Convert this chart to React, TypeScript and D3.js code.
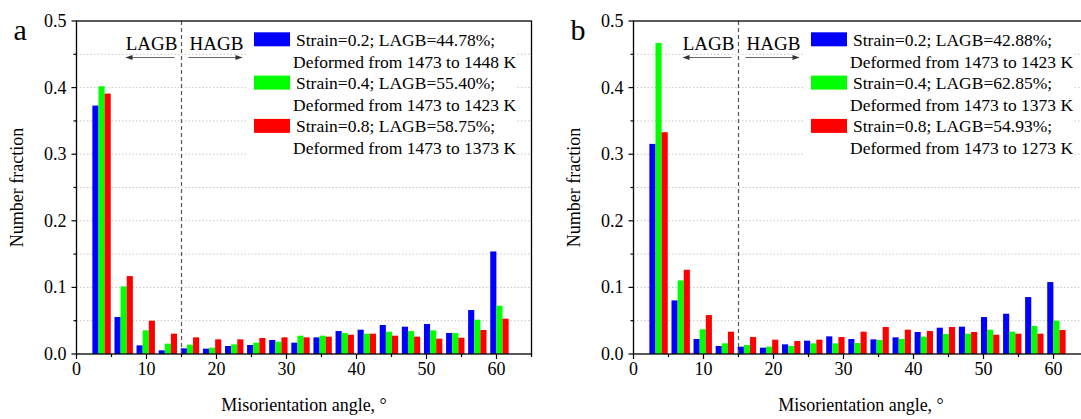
import React from "react";
import * as d3 from "d3";

// Misorientation-angle bin centres (degrees), 19 bins from 2° to 62°
const binCenters = [3.58, 6.74, 9.89, 13.05, 16.21, 19.37, 22.53, 25.68, 28.84, 32.0, 35.16, 38.32, 41.47, 44.63, 47.79, 50.95, 54.11, 57.26, 60.42];

// Panel a — number fraction per bin
const aStrain02 = [0.373, 0.0555, 0.013, 0.0055, 0.0085, 0.008, 0.012, 0.0135, 0.021, 0.017, 0.025, 0.0345, 0.0365, 0.0435, 0.041, 0.045, 0.0315, 0.066, 0.154];
const aStrain04 = [0.402, 0.1015, 0.0355, 0.0155, 0.014, 0.0095, 0.0145, 0.017, 0.0185, 0.0275, 0.0275, 0.0315, 0.0305, 0.0335, 0.0345, 0.0355, 0.0315, 0.0515, 0.0725];
const aStrain08 = [0.391, 0.117, 0.05, 0.0305, 0.025, 0.022, 0.022, 0.024, 0.025, 0.025, 0.026, 0.029, 0.0305, 0.0275, 0.026, 0.023, 0.0245, 0.036, 0.053];

// Panel b — number fraction per bin
const bStrain02 = [0.3155, 0.0805, 0.0225, 0.012, 0.011, 0.0095, 0.0145, 0.02, 0.0265, 0.0225, 0.022, 0.025, 0.033, 0.0395, 0.041, 0.0555, 0.0605, 0.0855, 0.108];
const bStrain04 = [0.467, 0.1105, 0.037, 0.016, 0.0135, 0.011, 0.012, 0.016, 0.016, 0.0165, 0.021, 0.0225, 0.026, 0.03, 0.0305, 0.0365, 0.0335, 0.042, 0.05];
const bStrain08 = [0.333, 0.1265, 0.0585, 0.0335, 0.0255, 0.0215, 0.0195, 0.0215, 0.0255, 0.0335, 0.0405, 0.0365, 0.0345, 0.0405, 0.033, 0.029, 0.0305, 0.0305, 0.036];

const seriesColors = ["#0000ff", "#00ff00", "#ff0000"];

const aLegend = [
  ["Strain=0.2; LAGB=44.78%;", "Deformed from 1473 to 1448 K"],
  ["Strain=0.4; LAGB=55.40%;", "Deformed from 1473 to 1423 K"],
  ["Strain=0.8; LAGB=58.75%;", "Deformed from 1473 to 1373 K"],
];
const bLegend = [
  ["Strain=0.2; LAGB=42.88%;", "Deformed from 1473 to 1423 K"],
  ["Strain=0.4; LAGB=62.85%;", "Deformed from 1473 to 1373 K"],
  ["Strain=0.8; LAGB=54.93%;", "Deformed from 1473 to 1273 K"],
];

const xMajorTicks = [0, 10, 20, 30, 40, 50, 60];
const xMinorTicks = [5, 15, 25, 35, 45, 55, 65];
const yMajorTicks = [0, 0.1, 0.2, 0.3, 0.4, 0.5];
const yMinorTicks = [0.05, 0.15, 0.25, 0.35, 0.45];
const gridValues = [0.05, 0.1, 0.15, 0.2, 0.25, 0.3, 0.35, 0.4, 0.45];

const boundaryAngle = 15;
const barWidthDeg = 0.875;

const FONT = "'Liberation Serif', 'Times New Roman', serif";

type PanelProps = {
  left: number;
  letter: string;
  series: number[][];
  legend: string[][];
};

function Panel({ left, letter, series, legend }: PanelProps) {
  const top = 21;
  const bottom = 354;
  const width = 455;
  const right = left + width;
  const x = d3.scaleLinear().domain([0, 65]).range([left, right]);
  const y = d3.scaleLinear().domain([0, 0.5]).range([bottom, top]);
  const bw = x(barWidthDeg) - x(0);
  const xb = x(boundaryAngle);

  const legX = left + 177.5;
  const arrowY = 57.5;

  return (
    <g fontFamily={FONT} fill="#000">
      {/* grid */}
      {gridValues.map((v) => (
        <line key={"g" + v} x1={left} x2={right} y1={y(v)} y2={y(v)} stroke="#c8c8c8" strokeWidth={1} strokeDasharray="1.5,2" />
      ))}
      {/* legend backdrop */}
      <rect x={legX - 7} y={25} width={270} height={141} fill="#fff" />
      {/* bars */}
      {series.map((vals, si) =>
        vals.map((v, i) => (
          <rect
            key={`b${si}-${i}`}
            x={x(binCenters[i]) + (si - 1.5) * bw}
            y={y(v)}
            width={bw}
            height={y(0) - y(v)}
            fill={seriesColors[si]}
          />
        ))
      )}
      {/* LAGB / HAGB boundary */}
      <line x1={xb} x2={xb} y1={top} y2={bottom} stroke="#555" strokeWidth={1.2} strokeDasharray="4,3" />
      <text x={xb - 4} y={50} fontSize={19} textAnchor="end">LAGB</text>
      <text x={xb + 8} y={50} fontSize={19}>HAGB</text>
      <line x1={xb - 55} x2={xb - 7} y1={arrowY} y2={arrowY} stroke="#666" strokeWidth={1} />
      <path d={`M${xb - 56},${arrowY} l7,-2.5 l0,5 z`} fill="#333" />
      <line x1={xb + 7} x2={xb + 60} y1={arrowY} y2={arrowY} stroke="#666" strokeWidth={1} />
      <path d={`M${xb + 61},${arrowY} l-7,-2.5 l0,5 z`} fill="#333" />
      {/* legend */}
      {legend.map((lines, i) => {
        const y0 = 32.3 + i * 43.3;
        return (
          <g key={"l" + i}>
            <rect x={legX} y={y0} width={36} height={14} fill={seriesColors[i]} />
            <text x={legX + 42} y={y0 + 13.5} fontSize={17.5}>{lines[0]}</text>
            <text x={legX + 39} y={y0 + 35.5} fontSize={17.5}>{lines[1]}</text>
          </g>
        );
      })}
      {/* frame */}
      <rect x={left} y={top} width={width} height={bottom - top} fill="none" stroke="#000" strokeWidth={1.3} />
      {/* x ticks */}
      {xMajorTicks.map((t) => (
        <g key={"xt" + t}>
          <line x1={x(t)} x2={x(t)} y1={bottom} y2={bottom + 5} stroke="#000" strokeWidth={1.2} />
          <text x={x(t)} y={375} fontSize={18} textAnchor="middle">{t}</text>
        </g>
      ))}
      {xMinorTicks.map((t) => (
        <line key={"xm" + t} x1={x(t)} x2={x(t)} y1={bottom} y2={bottom + 3} stroke="#000" strokeWidth={1.2} />
      ))}
      {/* y ticks */}
      {yMajorTicks.map((t) => (
        <g key={"yt" + t}>
          <line x1={left - 5} x2={left} y1={y(t)} y2={y(t)} stroke="#000" strokeWidth={1.2} />
          <text x={left - 10} y={y(t) + 6} fontSize={18} textAnchor="end">{t.toFixed(1)}</text>
        </g>
      ))}
      {yMinorTicks.map((t) => (
        <line key={"ym" + t} x1={left - 3} x2={left} y1={y(t)} y2={y(t)} stroke="#000" strokeWidth={1.2} />
      ))}
      {/* axis titles */}
      <text x={(left + right) / 2} y={411} fontSize={18} textAnchor="middle">Misorientation angle, °</text>
      <text transform={`translate(${left - 54},${(top + bottom) / 2}) rotate(-90)`} fontSize={18} textAnchor="middle">Number fraction</text>
      <text x={left - 63} y={40} fontSize={30}>{letter}</text>
    </g>
  );
}

export default function App() {
  return (
    <svg width={1081} height={419} style={{ position: "absolute", left: 0, top: 0, background: "#fff" }}>
      <rect width={1081} height={419} fill="#fff" />
      <Panel left={76.5} letter="a" series={[aStrain02, aStrain04, aStrain08]} legend={aLegend} />
      <Panel left={633.5} letter="b" series={[bStrain02, bStrain04, bStrain08]} legend={bLegend} />
    </svg>
  );
}
